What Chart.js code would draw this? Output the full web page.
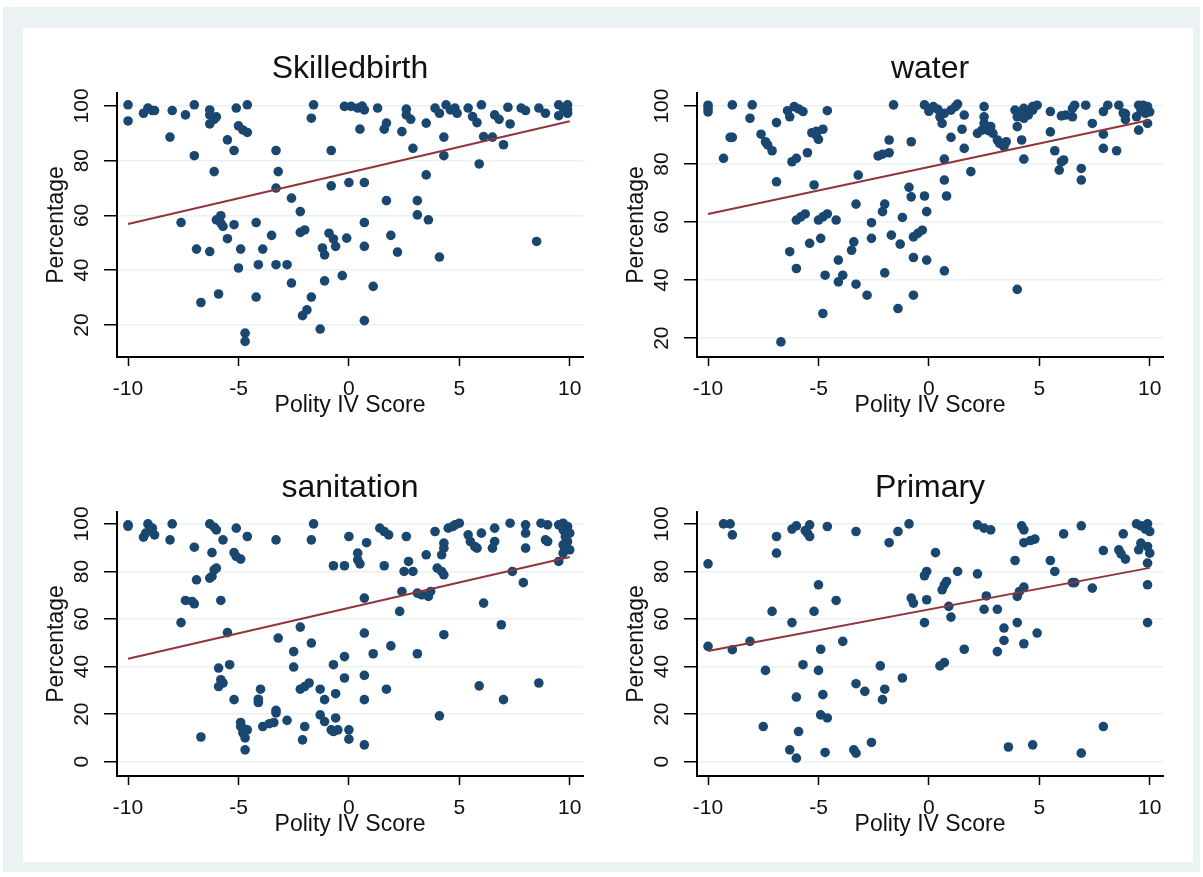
<!DOCTYPE html>
<html>
<head>
<meta charset="utf-8">
<script src="https://cdn.jsdelivr.net/npm/chart.js@4.4.0/dist/chart.umd.min.js"></script>
<style>
  body { margin: 0; background: #fff; width: 1203px; height: 877px; overflow: hidden; position: relative; }
  #frame { position: absolute; left: 3px; top: 7px; width: 1197px; height: 865px; background: #eaf2f3; }
  #inner { position: absolute; left: 23px; top: 28px; width: 1170px; height: 834px; background: #fff; }
  canvas { position: absolute; }
</style>
</head>
<body>
<div id="frame"></div>
<div id="inner"></div>
<canvas id="skilled" width="577" height="422" style="left:23px;top:28px"></canvas>
<canvas id="water" width="590" height="422" style="left:603px;top:28px"></canvas>
<canvas id="sanitation" width="577" height="422" style="left:23px;top:447px"></canvas>
<canvas id="primary" width="590" height="422" style="left:603px;top:447px"></canvas>
<script>
// tick labels
const polityTicks = [-10, -5, 0, 5, 10];
const pctTicksTop = [20, 40, 60, 80, 100];
const pctTicksBottom = [0, 20, 40, 60, 80, 100];

// fitted line end points (x = -10 and x = 10)
const fitX = [-10, 10];
const skilledFit = [56.9, 94.4];
const waterFit = [62.8, 95.2];
const sanitationFit = [43.3, 86.1];
const primaryFit = [46.6, 81.5];

// Skilledbirth
const skilledX = [-10,-10,-9.3,-9.1,-8.9,-8.8,-8.0,-8.1,-7.4,-7.0,-7.0,-7.6,-6.9,-6.3,-6.7,-5.9,-6.3,-6.3,-6.1,-6.3,
  -6.0,-6.1,-5.5,-5.2,-5.1,-4.6,-5.0,-4.8,-4.6,-5.8,-6.0,-5.8,-5.7,-5.2,-5.5,-4.9,-5.0,-4.2,-3.9,-4.1,
  -3.5,-3.3,-2.8,-4.2,-4.7,-4.7,-3.3,-3.2,-3.3,-2.6,-2.2,-2.2,-2.0,-2.6,-1.7,-2.1,-1.9,-1.6,-1.7,-1.3,
  -0.2,0.1,0.4,0.7,0.6,1.3,0.5,1.6,1.7,2.4,2.6,2.6,2.8,3.5,2.9,4.3,4.3,3.9,4.1,4.4,
  4.6,4.8,4.9,5.4,5.6,5.8,6.0,6.1,6.5,7.0,6.6,6.8,7.3,7.2,7.8,8.0,8.6,8.9,9.5,9.7,
  9.9,9.5,9.9,9.9,8.5,5.9,3.5,1.7,3.1,3.1,3.6,1.9,2.2,4.1,-0.8,-0.8,0.0,0.7,0.7,0.7,
  1.1,0.7,-0.1,-0.9,-0.7,-0.6,-1.2,-1.1,-0.3,-1.1];
const skilledY = [100.4,94.5,97.3,99.2,98.3,98.3,98.3,88.6,96.7,100.4,81.8,57.4,47.7,46.8,28.2,31.3,98.5,96.7,95.1,93.4,
  96,76,87.6,83.7,99.2,100.4,92.7,91.2,90.3,59.9,58.4,57.2,56,56.6,51.5,47.7,40.8,57.4,47.7,42,
  52.7,42,42,30.2,17,14,83.7,76,70,66.3,61.4,53.8,54.7,35.3,30.2,23.4,25.5,100.4,95.5,18.5,
  99.8,99.8,99.2,98.5,99.9,99.2,91.5,91.5,93.7,90.6,98.8,96.7,95.1,93.7,84.5,88.6,81.8,99.2,97.3,100.4,
  98.5,99.2,97.3,99.2,96.1,93.9,100.4,88.8,88.6,85.8,96.7,95.1,93.4,99.5,99.2,98.3,99.2,97.3,100.4,99.2,
  97.3,96.4,100.4,98.5,50.5,78.8,74.8,65.4,65.4,60.2,58.4,52.7,46.6,44.8,83.7,70.8,72,72,57.4,48.7,
  34.1,21.6,51.7,53.5,51.4,48.7,48.1,45.6,38,36.1];

// water
const waterX = [-10,-10,-10,-9.3,-8.9,-8.9,-9.0,-8.0,-8.1,-7.6,-7.4,-7.3,-7.1,-6.9,-6.9,-6.7,-6.3,-6.4,-6.1,-5.9,
  -5.7,-6.2,-6.0,-5.5,-5.3,-5.1,-5.0,-4.8,-5.1,-4.6,-5.2,-6.0,-5.8,-5.6,-5.0,-4.8,-4.6,-4.2,-6.3,-6.0,
  -5.4,-4.9,-4.7,-4.8,-4.1,-4.1,-3.9,-3.4,-3.5,-3.3,-2.8,-3.3,-3.2,-2.6,-2.6,-2.3,-2.1,-1.8,-1.8,-2.1,
  -2.0,-2.0,-1.7,-1.6,-1.4,-0.8,-1.2,-0.9,-0.8,-0.2,-0.1,-1.3,-0.7,-0.5,-0.3,-0.7,-0.1,0.7,-0.7,0.7,
  0.8,0.7,1.9,-0.2,0.0,0.2,0.4,0.5,0.6,0.7,1.0,1.2,1.3,1.0,1.5,1.6,1.6,2.5,2.5,2.5,
  2.2,2.4,2.8,2.9,3.1,3.2,3.4,3.5,2.7,3.9,4.0,4.0,4.2,4.3,4.5,4.7,4.9,4.7,4.3,4.2,
  4.3,4.0,5.5,5.5,5.7,6.0,5.9,6.1,6.0,6.2,6.5,6.6,6.5,6.9,6.9,7.1,7.4,7.9,8.1,7.9,
  7.9,8.5,8.6,8.8,8.9,8.9,9.5,9.5,9.7,9.9,9.6,9.8,10.0,9.4,9.9];
const waterY = [100.3,98,99.2,82,100.4,89.2,89.2,100.4,95.8,90.3,87.7,86.6,84.6,94.3,73.9,18.7,96.3,98.4,99.8,99,
  98.1,80.8,82,83.9,90.8,90,88.5,92,91.3,98.4,72.8,60.7,61.8,62.8,60.7,61.8,62.8,60.7,49.8,44,
  52.7,54.4,41.7,28.5,46.9,39.4,41.7,53.2,50.3,38.6,34.8,66.2,76.2,59.8,54.4,82.8,83.4,83.9,88.3,63.6,
  66.2,42.5,55.5,100.4,30.2,87.7,61.6,72,68.7,69,63.6,52.4,54.9,56.1,57.2,47.8,46.9,43.2,34.8,74.5,
  69,81.7,77.4,100.4,98.2,99.8,98.9,96.3,94,97.5,98.6,99.8,100.7,89.2,92,96.9,85.4,99.8,96.3,94,
  90.6,91.7,92.9,90.6,88.3,87.1,86,87.7,91.5,98.6,96.3,92.9,97.5,99.2,96.9,98.6,100.3,99.8,95.8,88.3,
  81.7,36.8,98.1,91.1,84.6,80.8,77.9,81.4,96.6,96.9,99.2,100.3,96.3,78.5,74.5,100.3,94,98.1,100.3,90.3,
  85.4,84.6,100.3,97.6,95.3,97.3,91.7,100.3,100.3,99.8,98.6,97.5,98,96.3,94];

// sanitation
const sanitationX = [-10,-10,-9.3,-9.1,-9.0,-9.2,-8.8,-8.9,-8.0,-8.1,-7.0,-6.9,-7.4,-7.1,-7.0,-7.6,-6.7,-6.3,-6.1,-6.0,
  -5.7,-6.2,-6.2,-6.1,-6.0,-6.3,-5.8,-5.5,-5.9,-5.8,-5.7,-5.9,-5.4,-5.1,-4.6,-5.2,-5.1,-4.9,-5.2,-4.9,
  -4.8,-4.6,-4.8,-4.7,-4.9,-4.7,-4.1,-4.1,-4.0,-3.9,-3.6,-3.4,-3.3,-3.3,-3.3,-3.2,-2.8,-2.5,-2.5,-2.2,
  -2.2,-2.0,-1.8,-2.0,-2.1,-1.7,-1.6,-1.7,-1.3,-1.3,-1.1,-0.6,-1.1,-0.8,-0.7,-0.6,-0.5,0.0,0.0,0.7,
  -0.7,-0.2,0.4,0.4,0.5,0.0,0.8,1.4,1.6,1.8,1.6,0.7,0.7,0.7,0.7,-0.2,-0.7,-0.2,1.1,1.9,
  1.7,2.3,2.4,2.6,2.5,2.7,2.9,3.1,3.3,3.6,3.7,3.1,3.5,3.9,4.1,4.0,4.2,4.3,4.2,4.3,
  4.3,4.3,4.5,4.7,4.8,5.0,5.4,5.5,5.7,5.8,6.0,5.9,6.1,6.6,6.6,6.5,6.9,7.0,7.3,7.4,
  7.9,8.0,8.0,8.0,8.6,8.7,9.0,8.9,9.0,9.5,9.7,9.9,9.7,10.0,9.8,9.9,9.7,10.0,9.7,9.5];
const sanitationY = [99.6,99,94.4,100,97.5,96.1,95.4,98.2,100,93.3,90.2,76.5,67.8,67.4,66.4,58.5,10.4,100,98.6,97.5,
  93.3,87.9,77.9,80.7,81.4,77.2,67.8,54.3,39.4,34.5,33.1,31.6,40.8,98.2,94.7,87.9,86.3,85.2,26.1,16.5,
  14.1,13.4,12.1,10,14.8,5,24.9,26.3,30.5,14.8,16,16.5,21.6,20.5,93.3,52,17.4,46.3,39.8,56.6,
  30.5,31.6,33.1,14.8,9.2,49.9,100,93.3,30.5,19.7,26.1,28.6,16.9,13.4,12.7,18.4,13.4,13.4,9.5,7.1,
  82.4,82.4,87.7,84.9,83.2,94.7,92.1,98.2,96.8,95.4,82.4,68.8,54.1,36.3,26.1,44.2,40.8,35.2,45.4,48.7,
  30.5,63.2,71.6,94.7,80,84.2,80,70.9,70.2,69.5,71.6,45.4,87,96.8,19.3,81.4,80,78.6,87,89.8,
  91.9,53.4,98.2,98.9,99.6,100.3,95.4,92.6,90.5,89.8,96.1,31.9,66.7,98.2,92.6,89.8,57.6,26.1,100.3,80,
  75.3,99.6,96.1,89.8,33.1,100.3,99.6,93.3,92.6,84.2,100.3,98.9,97.5,96.1,94.7,92.6,91.2,89.1,87.7,99.6];

// Primary
const primaryX = [-10,-10,-9.3,-9.0,-8.9,-8.9,-8.1,-7.5,-7.4,-7.1,-6.9,-6.9,-6.3,-6.0,-6.2,-6.2,-6.0,-6.0,-5.9,-5.7,
  -5.6,-5.5,-5.4,-5.4,-5.2,-5.0,-4.9,-5.0,-4.8,-4.9,-4.6,-4.7,-4.6,-4.2,-3.9,-3.4,-3.3,-3.3,-3.3,-2.9,
  -2.6,-2.2,-2.1,-2.0,-1.8,-1.4,-0.9,-1.2,-0.8,-0.7,-0.2,-0.1,-0.1,-0.2,0.3,0.6,0.7,0.8,0.9,1.0,
  0.5,0.7,1.3,1.6,2.2,2.2,2.5,2.8,2.6,2.5,3.1,3.1,3.4,3.4,3.6,3.9,4.0,4.1,4.3,4.0,
  4.3,4.2,4.3,4.3,4.6,4.8,4.7,4.9,5.5,5.7,6.1,6.5,6.6,6.9,6.9,7.4,7.9,7.9,8.6,8.7,
  8.9,8.8,9.4,9.6,9.8,9.9,10.0,9.5,9.6,9.9,10.0,9.9,9.9,9.9,9.8];
const primaryY = [83.2,48.5,100,100,95.4,47.1,50.6,14.8,38.4,63.2,94.7,87.7,5,1.5,58.5,97.8,99.2,27.2,12.7,40.8,
  97.2,96.1,94.7,99.6,63.2,74.4,47.3,38.4,28.2,19.7,18.4,3.9,98.9,67.8,50.6,5,3.6,96.8,32.8,29.6,
  8.1,40.3,26.1,30.5,92.1,96.8,100,35.2,68.8,66.7,78.2,80,68.1,58.5,87.9,72.3,74.4,75.8,65.3,60.8,
  40.3,41.7,80,47.3,79,99.6,98.2,97.5,69.7,64.1,64.1,46.3,56.2,51,6.2,84.6,69.5,71.6,73.4,58.5,
  49.6,99.2,97.5,92.1,93,93.6,7.1,54.1,84.6,80,95.8,75.3,75.3,99.2,3.6,73,88.8,14.8,89.1,87.4,
  85.2,95.8,100,99.2,97.8,100,96.8,89.1,91.9,90.5,87.7,83.5,74.4,58.5,98.6];

const font = 'Liberation Sans, Arial, sans-serif';

function drawPanel(id, title, xs, ys, fit, yTicks, yMin, yMax, padRight) {
  const points = xs.map((x, i) => ({ x: x, y: ys[i] }));
  const line = fitX.map((x, i) => ({ x: x, y: fit[i] }));
  new Chart(document.getElementById(id), {
    type: 'scatter',
    data: {
      datasets: [{
        type: 'line',
        data: line,
        borderColor: '#90353b',
        borderWidth: 2,
        pointRadius: 0,
        fill: false
      }, {
        data: points,
        backgroundColor: '#1a476f',
        borderWidth: 0,
        pointRadius: 4.8
      }]
    },
    options: {
      responsive: false,
      animation: false,
      devicePixelRatio: 1,
      events: [],
      layout: { padding: { left: 0, right: padRight, top: 0, bottom: 0 } },
      plugins: {
        legend: { display: false },
        tooltip: { enabled: false },
        title: {
          display: true,
          text: title,
          fullSize: false,
          color: '#111',
          font: { family: font, size: 32, weight: 'normal' },
          padding: { top: 22, bottom: 4.6 }
        }
      },
      scales: {
        x: {
          type: 'linear',
          min: -10.5,
          max: 10.6,
          afterBuildTicks: s => { s.ticks = polityTicks.map(v => ({ value: v })); },
          afterFit: s => { s.height = 93; },
          ticks: { autoSkip: false, maxRotation: 0, padding: 11, color: '#111', font: { family: font, size: 21 } },
          grid: { drawOnChartArea: false, tickLength: 9, tickColor: '#000', tickWidth: 1.5 },
          border: { display: true, color: '#000', width: 2 },
          title: {
            display: true,
            text: 'Polity IV Score',
            color: '#111',
            font: { family: font, size: 23 },
            padding: { top: 0, bottom: 31 }
          }
        },
        y: {
          type: 'linear',
          min: yMin,
          max: yMax,
          afterBuildTicks: s => { s.ticks = yTicks.map(v => ({ value: v })); },
          afterFit: s => { s.width = 94; },
          ticks: { autoSkip: false, minRotation: 90, maxRotation: 90, crossAlign: 'center', padding: 4, color: '#111', font: { family: font, size: 21 } },
          grid: { color: '#eaf2f3', lineWidth: 1.5, tickLength: 13, tickColor: '#000', tickWidth: 1.5 },
          border: { display: true, color: '#000', width: 2 },
          title: {
            display: true,
            text: 'Percentage',
            color: '#111',
            font: { family: font, size: 23 },
            padding: { top: 20, bottom: 0 }
          }
        }
      }
    }
  });
}

drawPanel('skilled', 'Skilledbirth', skilledX, skilledY, skilledFit, pctTicksTop, 8.3, 104.7, 17);
drawPanel('water', 'water', waterX, waterY, waterFit, pctTicksTop, 13.5, 104.5, 30);
drawPanel('sanitation', 'sanitation', sanitationX, sanitationY, sanitationFit, pctTicksBottom, -6, 105, 17);
drawPanel('primary', 'Primary', primaryX, primaryY, primaryFit, pctTicksBottom, -6, 105, 30);
</script>
</body>
</html>
